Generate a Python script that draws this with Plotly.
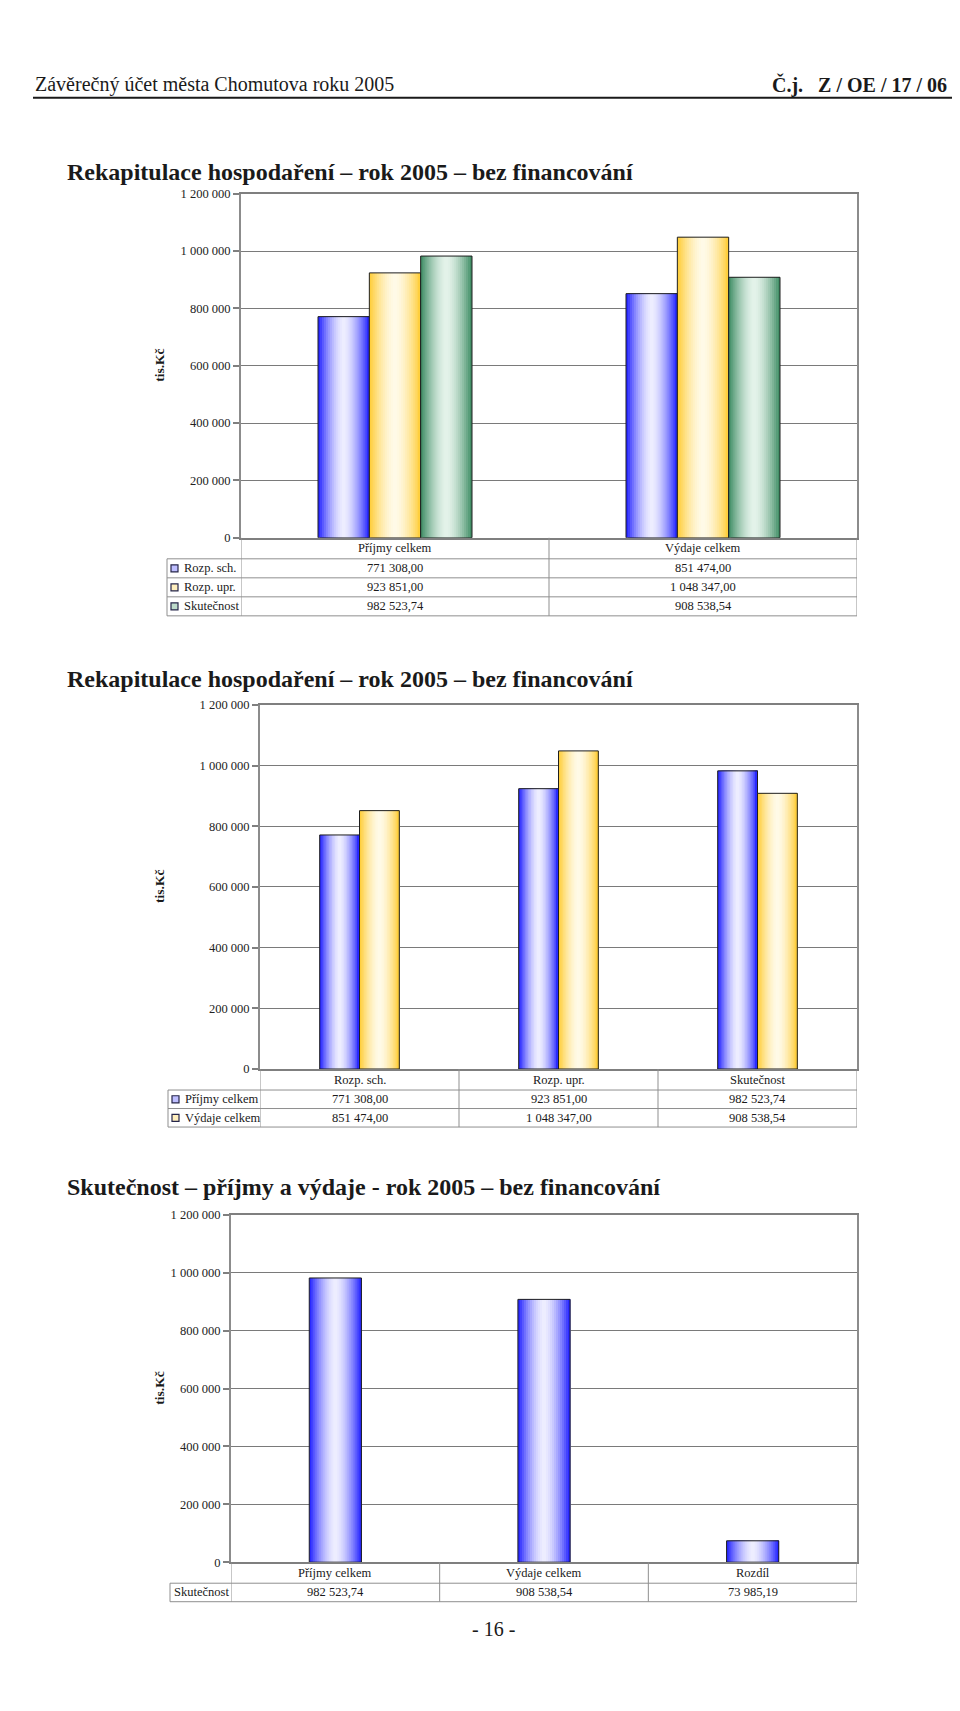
import plotly.graph_objects as go

# stranka ma v prohlizeci okraj 8 px, obrazek proto posuneme a zmensime
OX, OY = 8, 8
W, H = 944, 1675
# mirne svisle doladeni polohy (namereno z vystupu)
KY, DY = 1.0088, -6.5

# --- data -------------------------------------------------------------
# graf 1
g1_kategorie = ['Příjmy celkem', 'Výdaje celkem']
g1_rozp_sch = [771308.00, 851474.00]
g1_rozp_upr = [923851.00, 1048347.00]
g1_skutecnost = [982523.74, 908538.54]

# graf 2
g2_kategorie = ['Rozp. sch.', 'Rozp. upr.', 'Skutečnost']
g2_prijmy = [771308.00, 923851.00, 982523.74]
g2_vydaje = [851474.00, 1048347.00, 908538.54]

# graf 3
g3_kategorie = ['Příjmy celkem', 'Výdaje celkem', 'Rozdíl']
g3_skutecnost = [982523.74, 908538.54, 73985.19]

y_ticks = [0, 200000, 400000, 600000, 800000, 1000000, 1200000]

# barvy (okraj, stred prechodu)
MODRA = ((28, 28, 255), (238, 238, 255))
ZLUTA = ((255, 204, 51), (255, 250, 232))
ZELENA = ((58, 138, 96), (228, 243, 234))

FONT = 'Liberation Serif'
N_PRUHU = 26


def px_x(px):
    return (px - OX) / W


def px_y(py):
    return 1 - (KY * py + DY - OY) / H


def mix(c, t):
    edge, light = c
    w = 1 - abs(2 * t - 1) ** 1.6
    r, g, b = [round(e + (l - e) * w) for e, l in zip(edge, light)]
    return f'rgb({r},{g},{b})'


def cz(v):
    return f'{v:,.2f}'.replace(',', ' ').replace('.', ',')


def text(t, x, y, xref='paper', xanchor='center', size=12.5, **kw):
    return dict(text=t, x=x, y=y, xref=xref, yref='paper', xanchor=xanchor,
                yanchor='middle', showarrow=False,
                font=dict(family=FONT, size=size, color='#1a1a1a'), **kw)


grafy = [
    dict(kat=g1_kategorie,
         serie=[('Rozp. sch.', g1_rozp_sch, MODRA),
                ('Rozp. upr.', g1_rozp_upr, ZLUTA),
                ('Skutečnost', g1_skutecnost, ZELENA)],
         left=241, right=857, top=193, zero=537, group=0.5,
         tab_left=167, head_h=21, row_h=19, keys=True,
         title='Rekapitulace hospodaření – rok 2005 – bez financování', title_y=171),
    dict(kat=g2_kategorie,
         serie=[('Příjmy celkem', g2_prijmy, MODRA),
                ('Výdaje celkem', g2_vydaje, ZLUTA)],
         left=260, right=857, top=704, zero=1068, group=0.4,
         tab_left=168, head_h=21, row_h=18.5, keys=True,
         title='Rekapitulace hospodaření – rok 2005 – bez financování', title_y=678),
    dict(kat=g3_kategorie,
         serie=[('Skutečnost', g3_skutecnost, MODRA)],
         left=231, right=857, top=1214, zero=1561, group=0.25,
         tab_left=170, head_h=21, row_h=18.5, keys=False,
         title='Skutečnost – příjmy a výdaje - rok 2005 – bez financování', title_y=1186),
]

fig = go.Figure()
shapes = []
ann = []
layout_axes = {}

for gi, g in enumerate(grafy):
    n = gi + 1
    xa = 'x' if n == 1 else f'x{n}'
    ya = 'y' if n == 1 else f'y{n}'
    xpos = list(range(len(g['kat'])))
    ns = len(g['serie'])
    bw = g['group'] / ns
    for si, (name, vals, col) in enumerate(g['serie']):
        base = -g['group'] / 2 + si * bw
        # prechod barvy: kazdy pruh saha az k pravemu okraji sloupce, dalsi ho prekryje
        for k in range(N_PRUHU):
            t = (k + 0.5) / N_PRUHU
            fig.add_trace(go.Bar(x=xpos, y=vals, xaxis=xa, yaxis=ya,
                                 width=bw * (N_PRUHU - k) / N_PRUHU,
                                 offset=base + k * bw / N_PRUHU,
                                 marker=dict(color=mix(col, t), line=dict(width=0)),
                                 showlegend=False, hoverinfo='skip'))
        fig.add_trace(go.Bar(x=xpos, y=vals, xaxis=xa, yaxis=ya, name=name,
                             width=bw, offset=base,
                             marker=dict(color='rgba(0,0,0,0)', line=dict(color='#1e1e1e', width=1)),
                             showlegend=False, hoverinfo='skip'))

    axn = '' if n == 1 else str(n)
    layout_axes[f'xaxis{axn}'] = dict(
        domain=[px_x(g['left']), px_x(g['right'])], range=[-0.5, len(g['kat']) - 0.5],
        anchor=ya, showticklabels=False, ticks='', showgrid=False, zeroline=False,
        showline=True, linecolor='#7f7f7f', linewidth=1.5, mirror=True, fixedrange=True)
    layout_axes[f'yaxis{axn}'] = dict(
        domain=[px_y(g['zero']), px_y(g['top'])], range=[0, 1200000], anchor=xa,
        tickvals=y_ticks, tickformat=',d', ticks='outside', ticklen=6, tickwidth=1.5,
        tickcolor='#7f7f7f', showgrid=True, gridcolor='#7a7a7a', gridwidth=1.3,
        zeroline=False, showline=True, linecolor='#8c8c8c', linewidth=2, mirror=True,
        tickfont=dict(family=FONT, size=12.5, color='#222'), fixedrange=True)

    # nadpis a popis osy
    ann.append(text(f'<b>{g["title"]}</b>', px_x(65), px_y(g['title_y']),
                    xanchor='left', size=24))
    ann.append(text('<b>tis.Kč</b>', px_x(160), px_y((g['top'] + g['zero']) / 2),
                    size=13.5, textangle=-90))

    # tabulka pod grafem
    zero, hh, rh = g['zero'], g['head_h'], g['row_h']
    bottom = zero + hh + rh * ns
    lc = dict(color='#8f8f8f', width=1)
    for r in range(ns + 1):
        yy = zero + hh + r * rh
        shapes.append(dict(type='line', xref='paper', yref='paper',
                           x0=px_x(g['tab_left']), x1=px_x(g['right']),
                           y0=px_y(yy), y1=px_y(yy), line=lc))
    shapes.append(dict(type='line', xref='paper', yref='paper',
                       x0=px_x(g['tab_left']), x1=px_x(g['tab_left']),
                       y0=px_y(zero + hh), y1=px_y(bottom), line=lc))
    for b in range(len(g['kat']) + 1):
        shapes.append(dict(type='line', xref=xa, yref='paper', x0=b - 0.5, x1=b - 0.5,
                           y0=px_y(zero), y1=px_y(bottom), line=lc))
    for ci, kat in enumerate(g['kat']):
        ann.append(text(kat, ci, px_y(zero + hh / 2), xref=xa))
    for si, (name, vals, col) in enumerate(g['serie']):
        yc = zero + hh + (si + 0.5) * rh
        for ci, v in enumerate(vals):
            ann.append(text(cz(v), ci, px_y(yc), xref=xa))
        lx = g['tab_left'] + (15 if g['keys'] else 2)
        ann.append(text(name, px_x(lx), px_y(yc), xanchor='left'))
        if g['keys']:
            shapes.append(dict(type='rect', xref='paper', yref='paper',
                               x0=px_x(g['tab_left'] + 4), x1=px_x(g['tab_left'] + 11),
                               y0=px_y(yc - 3.5), y1=px_y(yc + 3.5),
                               fillcolor=mix(col, 0.3), line=dict(color='#26264a', width=1.2)))

# zahlavi stranky
ann.append(text('Závěrečný účet města Chomutova roku 2005', px_x(33), px_y(84),
                xanchor='left', size=20))
ann.append(text('<b>Č.j.\u00a0\u00a0 Z / OE / 17 / 06</b>', px_x(949), px_y(84),
                xanchor='right', size=20))
ann.append(text('- 16 -', px_x(494), px_y(1628), size=20))
shapes.append(dict(type='line', xref='paper', yref='paper', x0=px_x(33), x1=1,
                   y0=px_y(97), y1=px_y(97), line=dict(color='#1a1a1a', width=2)))

fig.update_layout(
    width=W, height=H, margin=dict(l=0, r=0, t=0, b=0),
    paper_bgcolor='white', plot_bgcolor='white',
    barmode='overlay', separators=', ', hovermode=False, showlegend=False,
    shapes=shapes, annotations=ann, **layout_axes)

fig.write_html('out.html')
